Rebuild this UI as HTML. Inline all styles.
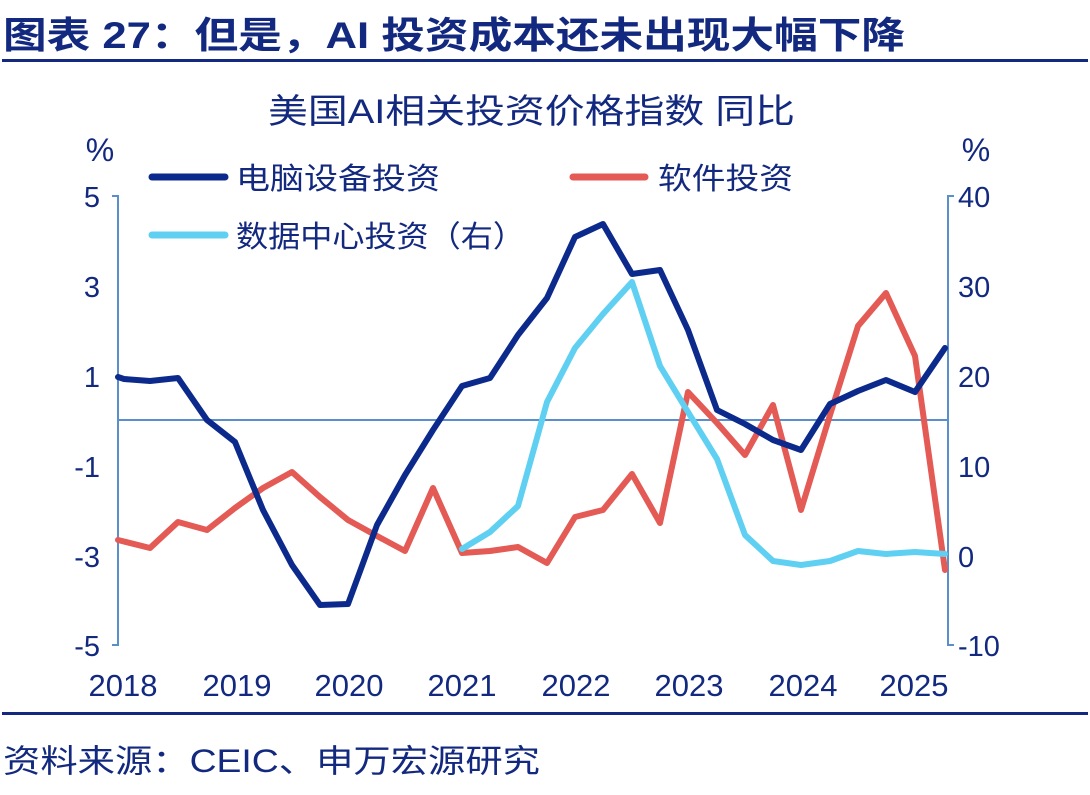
<!DOCTYPE html>
<html><head><meta charset="utf-8"><style>
body{margin:0;width:1090px;height:790px;background:#fff;overflow:hidden;font-family:"Liberation Sans","Noto Sans CJK SC",sans-serif}
</style></head><body>
<svg width="1090" height="790" viewBox="0 0 1090 790" xmlns="http://www.w3.org/2000/svg" style="font-family:'Liberation Sans','Noto Sans CJK SC',sans-serif">
<rect width="1090" height="790" fill="#fff"/>
<text x="3" y="48" font-size="37" font-weight="bold" fill="#12297f" textLength="902" lengthAdjust="spacingAndGlyphs">图表 27：但是，AI 投资成本还未出现大幅下降</text>
<rect x="2" y="59" width="1086" height="3" fill="#12297f"/>
<text x="268" y="123" font-size="34" fill="#12297f" textLength="527" lengthAdjust="spacingAndGlyphs">美国AI相关投资价格指数 同比</text>
<text x="100" y="161" font-size="32" fill="#12297f" text-anchor="middle">%</text>
<text x="976" y="161" font-size="32" fill="#12297f" text-anchor="middle">%</text>
<line x1="152" y1="177" x2="225" y2="177" stroke="#0c2a8c" stroke-width="7" stroke-linecap="round"/>
<text x="236" y="189" font-size="30" fill="#12297f" textLength="204" lengthAdjust="spacingAndGlyphs">电脑设备投资</text>
<line x1="573" y1="177" x2="645" y2="177" stroke="#e45a55" stroke-width="7" stroke-linecap="round"/>
<text x="658" y="189" font-size="30" fill="#12297f" textLength="135" lengthAdjust="spacingAndGlyphs">软件投资</text>
<line x1="152" y1="235" x2="225" y2="235" stroke="#5fd0f2" stroke-width="7" stroke-linecap="round"/>
<text x="236" y="247" font-size="30" fill="#12297f" textLength="289" lengthAdjust="spacingAndGlyphs">数据中心投资（右）</text>
<g stroke="#5b8fcb" stroke-width="2" fill="none">
<path d="M112 196H118V645H112"/>
<path d="M954 196H948V645H954"/>
<line x1="118" y1="420" x2="948" y2="420"/>
</g>
<g font-size="29" fill="#12297f" text-anchor="end">
<text x="100" y="207">5</text><text x="100" y="297">3</text><text x="100" y="387">1</text><text x="100" y="477">-1</text><text x="100" y="567">-3</text><text x="100" y="656">-5</text>
</g>
<g font-size="29" fill="#12297f" text-anchor="start">
<text x="958" y="207">40</text><text x="958" y="297">30</text><text x="958" y="387">20</text><text x="958" y="477">10</text><text x="958" y="567">0</text><text x="958" y="656">-10</text>
</g>
<g font-size="31" fill="#12297f" text-anchor="middle">
<text x="123" y="696">2018</text><text x="237" y="696">2019</text><text x="349" y="696">2020</text><text x="462" y="696">2021</text><text x="576" y="696">2022</text><text x="689" y="696">2023</text><text x="803" y="696">2024</text><text x="914" y="696">2025</text>
</g>
<g fill="none" stroke-width="6" stroke-linejoin="round" stroke-linecap="round">
<polyline stroke="#e45a55" points="118,540 150,548 178,522 207,530 235,508 263,488 292,472 320,497 348,520 377,536 405,551 433,488 462,553 490,551 518,547 547,563 575,517 603,510 632,474 660,523 688,392 717,423 745,455 773,405 801,510 830,415 858,326 886,293 915,356 945,570"/>
<polyline stroke="#5fd0f2" points="462,549 490,532 518,506 547,402 575,348 603,314 632,282 660,366 688,412 717,459 745,535 773,561 801,565 830,561 858,551 886,554 915,552 945,554"/>
<polyline stroke="#0c2a8c" points="118,377 124,379 150,381 178,378 207,420 235,442 263,510 292,565 320,605 348,604 377,525 405,475 433,430 462,386 490,378 518,335 547,298 575,237 603,224 632,274 660,270 688,330 717,410 745,424 773,440 801,450 830,404 858,391 886,380 915,392 945,348"/>
</g>
<rect x="2" y="712" width="1086" height="3" fill="#12297f"/>
<text x="3" y="772" font-size="32" fill="#12297f" textLength="537" lengthAdjust="spacingAndGlyphs">资料来源：CEIC、申万宏源研究</text>
</svg>
</body></html>
